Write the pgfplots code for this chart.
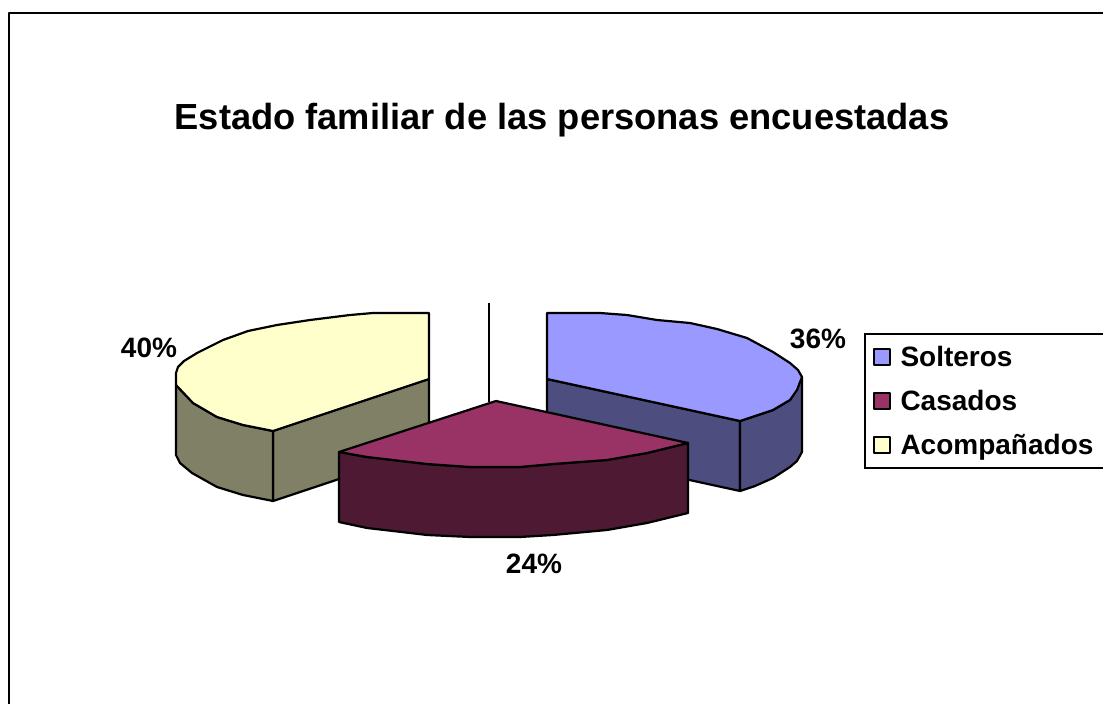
\documentclass[border=0pt]{standalone}
\usepackage{pgfplots}
\pgfplotsset{compat=1.18}
\usepackage{fontspec}
\setmainfont{Liberation Sans}
\definecolor{cblue}{HTML}{9999FF}
\definecolor{cblued}{HTML}{4D4D80}
\definecolor{cmag}{HTML}{993366}
\definecolor{cmagd}{HTML}{4D1933}
\definecolor{cyel}{HTML}{FFFFCC}
\definecolor{cyeld}{HTML}{808066}
\begin{document}
\begin{tikzpicture}
\useasboundingbox (0,0) rectangle (1103pt,704pt);
\begin{axis}[
  at={(0,0)},anchor=south west,
  scale only axis,width=1103pt,height=704pt,
  xmin=0,xmax=1103,ymin=0,ymax=704,y dir=reverse,
  axis lines=none,clip=false,
  every axis plot/.append style={draw=black,line width=2.2pt,line join=round,no markers},
  legend cell align=left,
  legend image code/.code={\draw[#1,line width=2pt] (0pt,-8pt) rectangle (16pt,8pt);},
  legend style={at={(axis cs:863.5,333)},anchor=north west,draw=black,line width=2pt,
    font=\fontsize{28}{30}\selectfont\bfseries,
    row sep=20.5pt,column sep=6pt,inner xsep=8pt,inner ysep=11pt,
    nodes={inner xsep=4pt,inner ysep=1pt}},
]
% frame
\addplot[forget plot,line width=2.4pt] coordinates {(9,704)(9,13)(1103,13)};
% series line
\addplot[forget plot,line width=2pt] coordinates {(489,303)(489,402)};
% Solteros sides
\addplot[forget plot,fill=cblued] coordinates {(547,379)(740,421)(740,491)(547,449)} -- cycle;
\addplot[forget plot,fill=cblued] coordinates {(802,377)(802,452)(797,461)(790,467)(773,478)(755,486)(740,491)(740,421)(773,410)(790,400)} -- cycle;
% Solteros top
\addplot[fill=cblue] coordinates {(547,313)(600,313)(627,315)(657,320)(690,323)(717,329)(747,338)(773,352)(790,363)(798,370)(802,377)(797,390)(790,400)(773,410)(755,416)(740,421)(547,379)} -- cycle;
\addlegendentry{Solteros}
% Acompanados sides
\addplot[forget plot,fill=cyeld] coordinates {(273,431)(429,379)(429,449)(273,501)} -- cycle;
\addplot[forget plot,fill=cyeld] coordinates {(176,385)(176,455)(180,463)(192,473)(217,487)(243,495)(273,501)(273,431)(243,425)(217,417)(193,403)} -- cycle;
% Casados
\addplot[forget plot,fill=cmagd] coordinates {(339,452)(339,522)(367,528)(393,531)(427,535)(470,537)(520,537)(553,535)(607,530)(647,523)(688,513)(688,443)(647,453)(607,460)(553,464)(520,467)(470,467)(427,464)(393,460)(367,457)} -- cycle;
\addplot[fill=cmag] coordinates {(496,401)(688,443)(647,453)(607,460)(553,464)(520,467)(470,467)(427,464)(393,460)(367,457)(339,452)} -- cycle;
\addlegendentry{Casados}
% Acompanados top
\addplot[fill=cyel] coordinates {(429,313)(373,313)(350,315)(310,320)(277,325)(248,331)(223,340)(197,353)(184,361)(178,367)(176,373)(176,385)(193,403)(217,417)(243,425)(273,431)(429,379)} -- cycle;
\addlegendentry{Acompañados}
\node[font=\fontsize{36.3}{38}\selectfont\bfseries] at (axis cs:562,120) {Estado familiar de las personas encuestadas};
\node[font=\fontsize{28}{30}\selectfont\bfseries] at (axis cs:149,348) {40\%};
\node[font=\fontsize{28}{30}\selectfont\bfseries] at (axis cs:818,339) {36\%};
\node[font=\fontsize{28}{30}\selectfont\bfseries] at (axis cs:534,564) {24\%};
\end{axis}
\end{tikzpicture}
\end{document}
